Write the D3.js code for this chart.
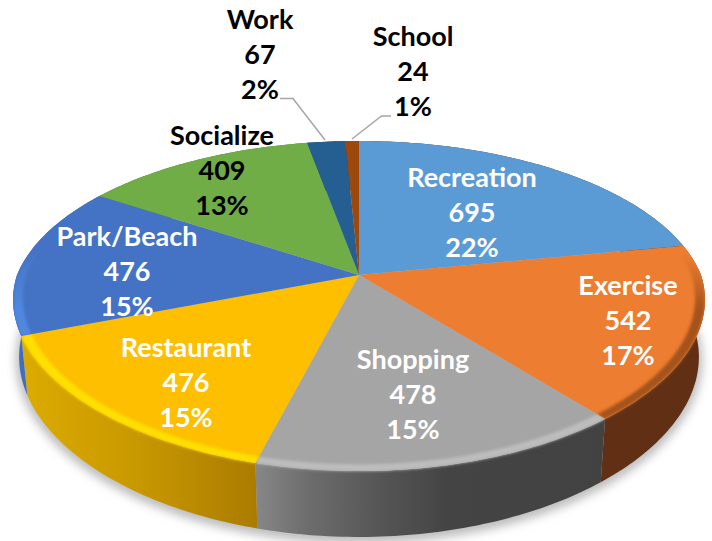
<!DOCTYPE html>
<html><head><meta charset="utf-8">
<script src="https://cdn.jsdelivr.net/npm/d3@7"></script>
<style>html,body{margin:0;background:#fff}svg{display:block}text{font-family:Lato,"Open Sans",sans-serif;font-weight:700;font-size:27px;text-anchor:middle}</style>
</head><body><svg id="c" width="712" height="541"></svg>
<script>
const categories = ["Recreation","Exercise","Shopping","Restaurant","Park/Beach","Socialize","Work","School"];
const values = [695,542,478,476,476,409,67,24];
const percents = ["22%","17%","15%","15%","15%","13%","2%","1%"];
const colors = ["#5b9bd5","#ed7d31","#a5a5a5","#fdbf00","#4472c4","#70ad47","#255e91","#9e480e"];
const textColors = ["#fff","#fff","#fff","#fff","#fff","#000","#000","#000"];
const bevelColors = [null,"#a4521b","#bdbdbd","#ffe000","#4f88e0",null,null,null];
const bevelFade = [null,[255,310],null,null,[250,310],null,null,null];
const labelAnchors = [[472,178],[628,286],[413,360],[186,348],[127,237],[222,136],[260,20],[413,37]];
const leaders = [[[280,98.5],[293,98.5],[325,140]],[[391,116],[381.5,116],[352,139]]];
const sideStops = [
 [["0","#613014"]],[["0","#613014"]],
 [["0","#878787"],["0.15","#6d6d6d"],["0.35","#565656"],["0.55","#444"],["1","#424242"]],
 [["0","#dcab00"],["0.5","#c89800"],["1","#ab7c00"]],
 [["0","#3f6fbc"]],[["0","#4e7a32"]],[["0","#1a4265"]],[["0","#6e320a"]]
];

const svg = d3.select("#c"), defs = svg.append("defs");
const cx = 359, k = -0.188;
const proj = (t, r, a, b, d) => {
  const X = r*Math.sin(t), Z = -r*Math.cos(t), w = 1 + k*Z;
  return [cx + d*X/(w < 1 ? Math.pow(w, 0.8) : w), (a*Z + b)/w];
};
const upper = (t, r=1) => proj(t, r, 107.5, 275, 342);
const low = t => proj(t, 1, 105, 331, 336);
const line = d3.line();
const samples = (s, e) => { const n = Math.max(2, Math.ceil((e-s)*60)); return d3.range(n+1).map(i => s + (e-s)*i/n); };

const arcs = d3.pie().sort(null)(values);
defs.append("filter").attr("id","sh").attr("x","-20%").attr("y","-20%").attr("width","140%").attr("height","140%")
  .append("feGaussianBlur").attr("stdDeviation",5);
defs.append("filter").attr("id","bv").attr("x","-20%").attr("y","-20%").attr("width","140%").attr("height","140%")
  .append("feGaussianBlur").attr("stdDeviation",1.8);

// ground shadow
svg.append("path").attr("d", line(samples(0, 2*Math.PI).map(low))+"Z")
  .attr("transform","translate(0,3)").attr("fill","#bdbdbd").attr("stroke","#bdbdbd").attr("stroke-width",7).attr("filter","url(#sh)");

const sidePath = a => { const ts = samples(a.startAngle,a.endAngle);
  return line(ts.map(t=>upper(t)).concat(ts.slice().reverse().map(low)))+"Z"; };
const topPath = a => line([upper(0,0)].concat(samples(a.startAngle,a.endAngle).map(t=>upper(t))))+"Z";

// sides
arcs.forEach((a,i) => {
  const g = defs.append("linearGradient").attr("id","g"+i).attr("gradientUnits","userSpaceOnUse");
  const [x0,x1] = d3.extent(samples(a.startAngle,a.endAngle).map(t=>upper(t)[0]));
  g.attr("x1",x0).attr("x2",x1).attr("y1",0).attr("y2",0);
  g.selectAll("stop").data(sideStops[i]).join("stop").attr("offset",d=>d[0]).attr("stop-color",d=>d[1]);
  svg.append("path").attr("d", sidePath(a)).attr("fill","url(#g"+i+")");
});

// top faces
arcs.forEach((a,i) => { svg.append("path").attr("d",topPath(a)).attr("fill",colors[i]); });

// soft rounded rim, straddling the edge between top face and side
arcs.forEach((a,i) => {
  if (!bevelColors[i]) return;
  const ts = samples(a.startAngle,a.endAngle);
  defs.append("clipPath").attr("id","s"+i).append("path").attr("d",topPath(a)+sidePath(a));
  let fill = bevelColors[i];
  if (bevelFade[i]) {
    const g = defs.append("linearGradient").attr("id","b"+i).attr("gradientUnits","userSpaceOnUse")
      .attr("x1",0).attr("x2",0).attr("y1",bevelFade[i][0]).attr("y2",bevelFade[i][1]);
    g.append("stop").attr("offset",0).attr("stop-color",bevelColors[i]).attr("stop-opacity",0);
    g.append("stop").attr("offset",1).attr("stop-color",bevelColors[i]).attr("stop-opacity",1);
    fill = "url(#b"+i+")";
  }
  svg.append("g").attr("clip-path","url(#s"+i+")").append("path")
    .attr("d", line(ts.map(t=>upper(t,0.972)).concat(ts.slice().reverse().map(t=>upper(t,1.0))))+"Z")
    .attr("fill",fill).attr("filter","url(#bv)");
});

// leader lines
svg.selectAll("path.lead").data(leaders).join("path").attr("class","lead")
  .attr("d",line).attr("fill","none").attr("stroke","#a6a6a6").attr("stroke-width",1.5);

// labels
categories.forEach((c,i) => {
  const t = svg.append("text").attr("fill",textColors[i]);
  [c, values[i], percents[i]].forEach((s,j) => {
    t.append("tspan").attr("x",labelAnchors[i][0]).attr("y",labelAnchors[i][1]+j*35).attr("dy","0.35em").text(s);
  });
});
</script></body></html>
